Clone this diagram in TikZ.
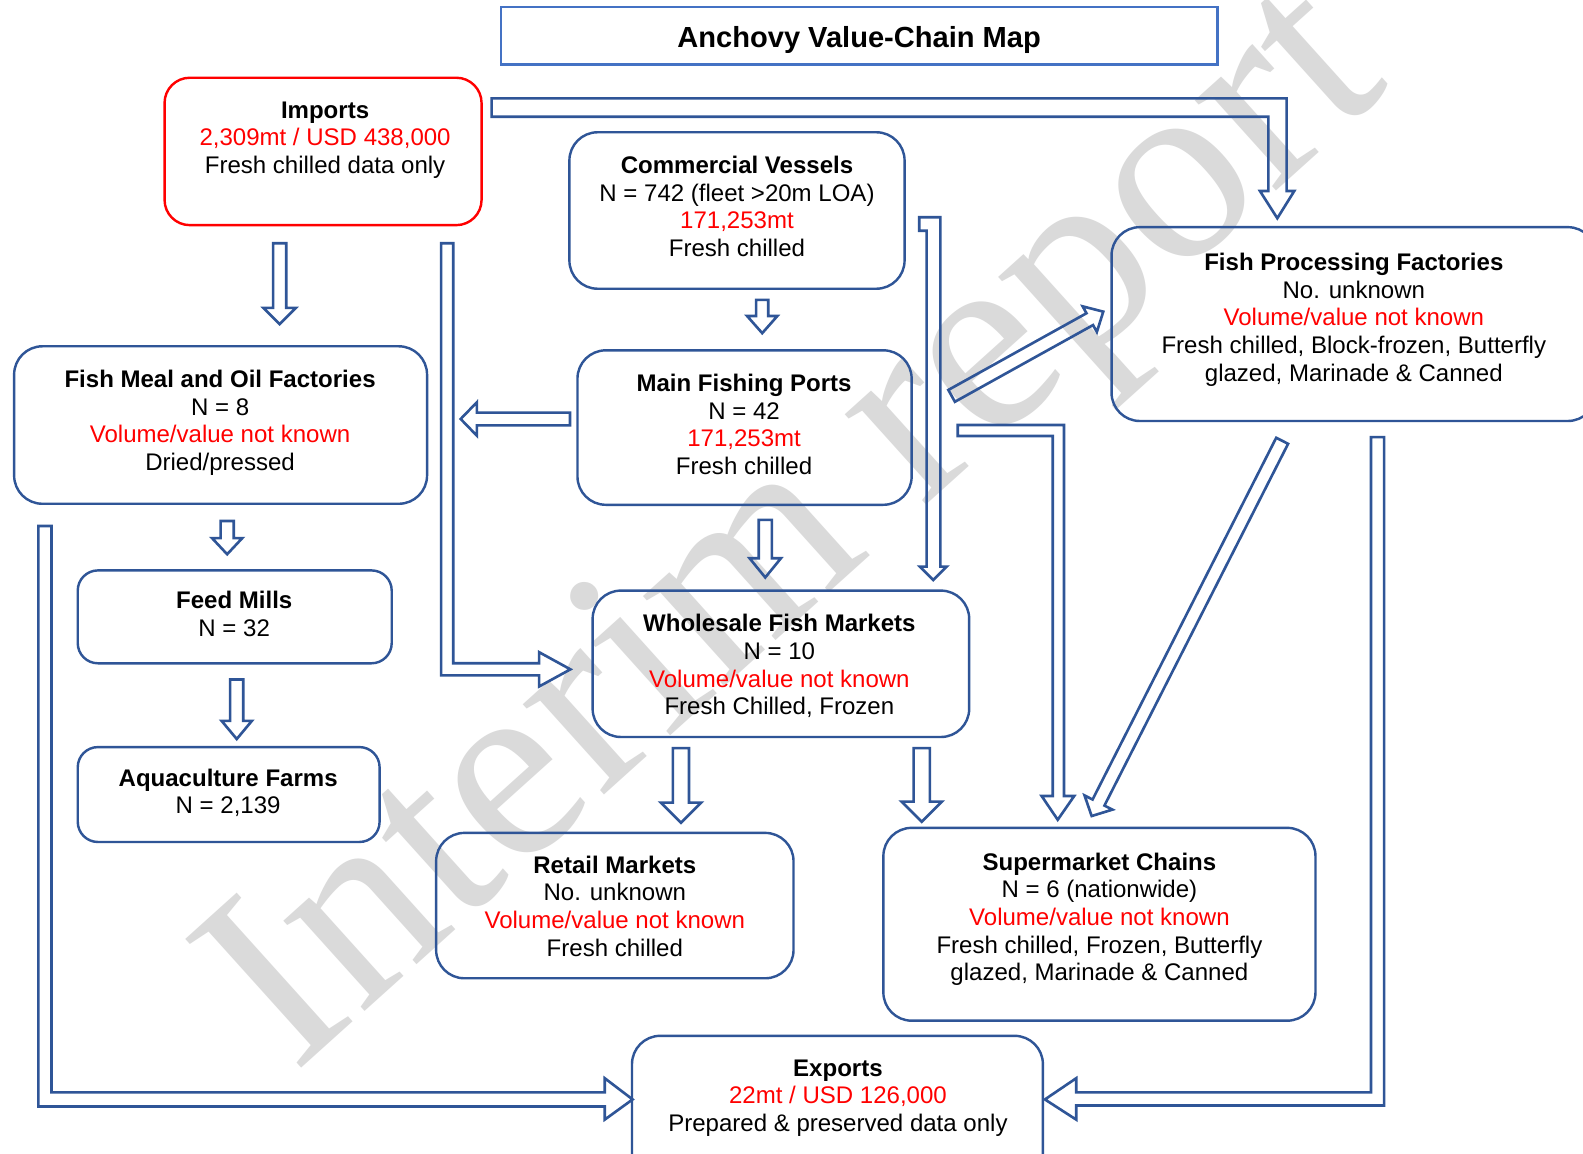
\documentclass[tikz,border=0pt]{standalone}
\usepackage{fontspec}
\setmainfont{Liberation Sans}
\newfontfamily\wmfont{Liberation Serif}
\usetikzlibrary{calc}

\definecolor{navy}{RGB}{47,85,151}
\definecolor{titleblue}{RGB}{68,114,196}
\definecolor{wmgray}{RGB}{218,218,218}
\definecolor{alert}{RGB}{255,0,0}

\tikzset{
  box/.style={draw=navy, line width=2.4pt, rounded corners=28pt, inner sep=0pt},
  smallbox/.style={box, rounded corners=20pt},
  txt/.style={align=center, anchor=north, inner sep=0pt,
              font=\fontsize{23.8}{27.4}\selectfont},
  flow/.style={draw=navy, line width=2.6pt, line join=miter},
}

\newcommand\hd[1]{\textbf{#1}}
\newcommand\rd[1]{\textcolor{alert}{#1}}

% rounded panel given by its corners: [style]{name}{x1}{y1}{x2}{y2}
\newcommand\panel[6][box]{%
  \node[#1, minimum width={(#5-#3)*1pt}, minimum height={(#6-#4)*1pt}]
    (#2) at ({(#3+#5)/2},{(#4+#6)/2}) {};}

% straight outlined block arrow: {from}{tip}{half shaft}{half head}{head length}
\newcommand\blockarrow[5]{%
  \coordinate (ba-base) at ($(#2)!#5!(#1)$);
  \draw[flow] ($(#1)!#3!90:(#2)$) -- ($(ba-base)!#3!90:(#2)$)
    -- ($(ba-base)!#4!90:(#2)$) -- (#2) -- ($(ba-base)!#4!-90:(#2)$)
    -- ($(ba-base)!#3!-90:(#2)$) -- ($(#1)!#3!-90:(#2)$) -- cycle;}

\begin{document}
\begin{tikzpicture}[x=1pt, y=-1pt]
\useasboundingbox (0,0) rectangle (1568,1143);
\fill[white] (0,0) rectangle (1568,1143);
\clip (0,0) rectangle (1568,1143);

% watermark
\node[rotate=42, anchor=base west, inner sep=0pt, text=wmgray,
      font=\wmfont\fontsize{262}{262}\selectfont] (wm) at (292,1064) {Interim report};

% title
\node[draw=titleblue, line width=2.4pt, minimum width=710pt, minimum height=57pt,
      inner sep=0pt] (title) at (851,35.5) {};
\node[font=\bfseries\fontsize{28.8}{30}\selectfont, anchor=base, inner sep=0pt]
  (title-t) at (851,47.3) {Anchovy Value-Chain Map};

% panels
\panel[box, draw=alert, rounded corners=25pt]{imports}{163}{77}{477}{223}
\panel{vessels}{564}{131}{896}{286}
\panel{processing}{1101}{225}{1581}{417}
\panel{fishmeal}{14}{343}{423}{499}
\panel{ports}{572}{347}{903}{500}
\panel[smallbox]{feed}{77}{565}{388}{657}
\panel{wholesale}{587}{585}{960}{730}
\panel[smallbox]{aqua}{77}{740}{376}{834}
\panel{retail}{432}{825}{786}{969}
\panel{super}{875}{820}{1303}{1011}
\panel{exports}{626}{1026}{1033}{1175}

% panel texts
\node[txt] (imports-t) at (322,100.4)
  {\hd{Imports}\\ \rd{2,309mt / USD 438,000}\\ Fresh chilled data only};
\node[txt] (vessels-t) at (730,154.4)
  {\hd{Commercial Vessels}\\ N = 742 (fleet >20m LOA)\\ \rd{171,253mt}\\ Fresh chilled};
\node[txt] (processing-t) at (1341,250.4)
  {\hd{Fish Processing Factories}\\ No. unknown\\ \rd{Volume/value not known}\\
   Fresh chilled, Block-frozen, Butterfly\\ glazed, Marinade \& Canned};
\node[txt] (fishmeal-t) at (218,366.4)
  {\hd{Fish Meal and Oil Factories}\\ N = 8\\ \rd{Volume/value not known}\\ Dried/pressed};
\node[txt] (ports-t) at (737,370.4)
  {\hd{Main Fishing Ports}\\ N = 42\\ \rd{171,253mt}\\ Fresh chilled};
\node[txt] (feed-t) at (232,585.4) {\hd{Feed Mills}\\ N = 32};
\node[txt] (wholesale-t) at (772,608.4)
  {\hd{Wholesale Fish Markets}\\ N = 10\\ \rd{Volume/value not known}\\ Fresh Chilled, Frozen};
\node[txt] (aqua-t) at (226,761.4) {\hd{Aquaculture Farms}\\ N = 2,139};
\node[txt] (retail-t) at (609,847.4)
  {\hd{Retail Markets}\\ No. unknown\\ \rd{Volume/value not known}\\ Fresh chilled};
\node[txt] (super-t) at (1089,844.4)
  {\hd{Supermarket Chains}\\ N = 6 (nationwide)\\ \rd{Volume/value not known}\\
   Fresh chilled, Frozen, Butterfly\\ glazed, Marinade \& Canned};
\node[txt] (exports-t) at (830,1049.4)
  {\hd{Exports}\\ \rd{22mt / USD 126,000}\\ Prepared \& preserved data only};

% straight flows
\coordinate (imp-fm-s) at (277,241);   \coordinate (imp-fm-t) at (277,321);
\blockarrow{imp-fm-s}{imp-fm-t}{6.5pt}{16pt}{16pt}
\coordinate (cv-mp-s) at (755,297);    \coordinate (cv-mp-t) at (755,330);
\blockarrow{cv-mp-s}{cv-mp-t}{6pt}{15pt}{17pt}
\coordinate (fm-fd-s) at (225,516);    \coordinate (fm-fd-t) at (225,549);
\blockarrow{fm-fd-s}{fm-fd-t}{6.5pt}{15pt}{16pt}
\coordinate (fd-aq-s) at (234.5,673);  \coordinate (fd-aq-t) at (234.5,732);
\blockarrow{fd-aq-s}{fd-aq-t}{6.5pt}{15pt}{18pt}
\coordinate (mp-fm-s) at (564.6,415);  \coordinate (mp-fm-t) at (456.3,415);
\blockarrow{mp-fm-s}{mp-fm-t}{6.3pt}{16.5pt}{16pt}
\coordinate (mp-fp-s) at (942.6,392.1); \coordinate (mp-fp-t) at (1092.8,308.7);
\blockarrow{mp-fp-s}{mp-fp-t}{6.7pt}{14.5pt}{15.3pt}
\coordinate (mp-ws-s) at (758,515);    \coordinate (mp-ws-t) at (758,572);
\blockarrow{mp-ws-s}{mp-ws-t}{6.5pt}{15.5pt}{19pt}
\coordinate (ws-rt-s) at (674.5,741);  \coordinate (ws-rt-t) at (674.5,815);
\blockarrow{ws-rt-s}{ws-rt-t}{8pt}{20pt}{20pt}
\coordinate (ws-sm-s) at (913,741);    \coordinate (ws-sm-t) at (913,814);
\blockarrow{ws-sm-s}{ws-sm-t}{8pt}{20pt}{20pt}
\coordinate (fp-sm-s) at (1270,436.6); \coordinate (fp-sm-t) at (1081.3,808.3);
\blockarrow{fp-sm-s}{fp-sm-t}{6.6pt}{15.5pt}{15pt}

% bent flows
\draw[flow] (437,241) -- (449,241) -- (449,657) -- (534,657) -- (534,646)
  -- (565,663) coordinate (imp-ws-t) -- (534,680) -- (534,669) -- (437,669) -- cycle;
\draw[flow] (487,97.4) -- (1274.4,97.4) -- (1274.4,189.2) -- (1282,189.2)
  -- (1265.2,216.2) coordinate (imp-fp-t) -- (1248,189.2) -- (1256.3,189.2)
  -- (1256.3,115.6) -- (487,115.6) -- cycle;
\draw[flow] (910.5,215.2) -- (931.5,215.2) -- (931.5,561.3) -- (937.7,561.3)
  -- (924.4,574.5) coordinate (cv-ws-t) -- (911.2,561.3) -- (917.8,561.3)
  -- (917.8,228.5) -- (910.5,228.5) -- cycle;
\draw[flow] (948.6,421) -- (1053.9,421) -- (1053.9,788.5) -- (1064,788.5)
  -- (1047.7,812) coordinate (mp-sm-t) -- (1031.8,788.5) -- (1042.7,788.5)
  -- (1042.7,431.9) -- (948.6,431.9) -- cycle;
\draw[flow] (1358,433) -- (1371,433) -- (1371,1095) -- (1066,1095) -- (1066,1109)
  -- (1035,1089) coordinate (fp-ex-t) -- (1066,1068) -- (1066,1082) -- (1358,1082) -- cycle;
\draw[flow] (38,521) -- (51,521) -- (51,1082) -- (599,1082) -- (599,1068)
  -- (626.6,1089) coordinate (fm-ex-t) -- (599,1109) -- (599,1096) -- (38,1096) -- cycle;
\end{tikzpicture}
\end{document}
